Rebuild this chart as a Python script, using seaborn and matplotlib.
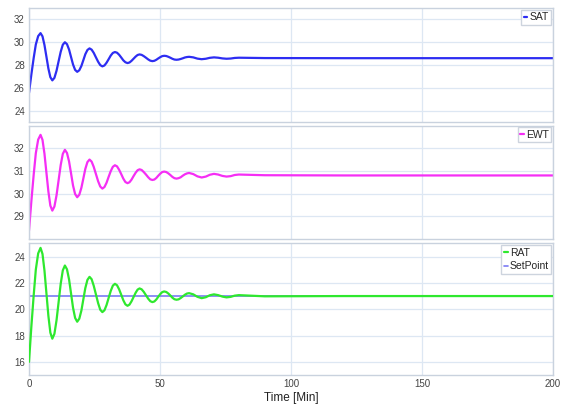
import numpy as np
import pandas as pd
import matplotlib
matplotlib.use('Agg')
import matplotlib.pyplot as plt
import seaborn as sns

# Values (time in minutes)
time_min = [0, 0.9, 1.8, 2.6, 3.5, 4.4,
            5.15, 5.9, 6.65, 7.4, 8.15, 8.9,
            9.7, 10.5, 11.3, 12.1, 12.9, 13.7,
            14.5, 15.3, 16.05, 16.8, 17.6, 18.4,
            19.2, 20.0, 20.75, 21.5, 22.3, 23.1,
            23.9, 24.7, 25.55, 26.4, 27.2, 28.0,
            28.8, 29.6, 30.4, 31.2, 32.0, 32.8,
            33.6, 34.4, 35.2, 36.0, 36.8, 37.6,
            38.35, 39.1, 39.9, 40.7, 41.45, 42.2,
            43.0, 43.8, 44.65, 45.5, 46.3, 47.1,
            47.85, 48.6, 49.35, 50.1, 50.85, 51.6,
            52.4, 53.2, 53.95, 54.7, 55.5, 56.3,
            57.1, 57.9, 58.7, 59.5, 60.3, 61.1,
            62.7, 64.3, 65.9, 67.5, 69.0, 70.6,
            72.2, 73.8, 75.4, 77.0, 78.5, 80.1,
            90, 120, 160, 200]

sat = [25.55, 27.17, 28.64, 29.80, 30.54, 30.8,
       30.52, 29.76, 28.73, 27.69, 26.93, 26.65,
       26.87, 27.49, 28.33, 29.16, 29.78, 30.0,
       29.83, 29.35, 28.70, 28.05, 27.57, 27.4,
       27.54, 27.92, 28.43, 28.95, 29.32, 29.46,
       29.35, 29.07, 28.67, 28.28, 27.99, 27.88,
       27.96, 28.20, 28.51, 28.83, 29.06, 29.14,
       29.08, 28.90, 28.66, 28.41, 28.24, 28.17,
       28.22, 28.36, 28.55, 28.74, 28.88, 28.93,
       28.89, 28.78, 28.64, 28.49, 28.38, 28.34,
       28.37, 28.46, 28.58, 28.69, 28.78, 28.81,
       28.79, 28.72, 28.64, 28.55, 28.48, 28.46,
       28.48, 28.53, 28.59, 28.66, 28.70, 28.72,
       28.67, 28.56, 28.51, 28.55, 28.63, 28.67,
       28.64, 28.58, 28.55, 28.57, 28.62, 28.64,
       28.61, 28.6, 28.6, 28.6]

ewt = [28.37, 29.67, 30.85, 31.78, 32.38, 32.59,
       32.37, 31.76, 30.92, 30.09, 29.47, 29.25,
       29.43, 29.92, 30.59, 31.26, 31.75, 31.93,
       31.79, 31.41, 30.89, 30.36, 29.98, 29.84,
       29.95, 30.26, 30.67, 31.09, 31.39, 31.5,
       31.41, 31.18, 30.86, 30.54, 30.31, 30.22,
       30.29, 30.48, 30.74, 30.99, 31.18, 31.25,
       31.20, 31.05, 30.86, 30.66, 30.51, 30.46,
       30.50, 30.61, 30.77, 30.92, 31.03, 31.07,
       31.04, 30.95, 30.84, 30.72, 30.63, 30.6,
       30.62, 30.69, 30.79, 30.88, 30.95, 30.97,
       30.95, 30.89, 30.82, 30.74, 30.68, 30.66,
       30.68, 30.72, 30.79, 30.85, 30.89, 30.91,
       30.86, 30.76, 30.71, 30.75, 30.83, 30.87,
       30.84, 30.78, 30.75, 30.77, 30.82, 30.84,
       30.81, 30.8, 30.8, 30.8]

rat = [16.0, 18.68, 21.09, 23.01, 24.24, 24.66,
       24.20, 22.94, 21.21, 19.49, 18.22, 17.76,
       18.13, 19.15, 20.54, 21.93, 22.95, 23.32,
       23.03, 22.25, 21.19, 20.12, 19.34, 19.05,
       19.28, 19.90, 20.76, 21.61, 22.23, 22.46,
       22.28, 21.79, 21.12, 20.45, 19.96, 19.78,
       19.92, 20.32, 20.86, 21.39, 21.79, 21.93,
       21.82, 21.51, 21.10, 20.68, 20.37, 20.26,
       20.35, 20.59, 20.92, 21.25, 21.49, 21.58,
       21.51, 21.32, 21.06, 20.80, 20.61, 20.54,
       20.59, 20.74, 20.95, 21.15, 21.30, 21.35,
       21.31, 21.19, 21.04, 20.88, 20.76, 20.72,
       20.75, 20.85, 20.97, 21.10, 21.19, 21.22,
       21.13, 20.94, 20.84, 20.91, 21.06, 21.13,
       21.07, 20.96, 20.9, 20.94, 21.03, 21.07,
       20.98, 21.0, 21.0, 21.0]

setpoint_time = [0, 200]
setpoint = [21.0, 21.0]

df = pd.DataFrame({'t': time_min, 'SAT': sat, 'EWT': ewt, 'RAT': rat})
sp = pd.DataFrame({'t': setpoint_time, 'SetPoint': setpoint})

sns.set_style('white')
plt.rcParams['font.family'] = ['Liberation Sans Narrow', 'Liberation Sans', 'DejaVu Sans']

grid_c = '#dde7f3'
spine_c = '#c9d2de'

fig = plt.figure(figsize=(5.61, 4.05), dpi=100)
ax1 = fig.add_axes([0.0517, 0.699, 0.934, 0.281])
ax2 = fig.add_axes([0.0517, 0.410, 0.934, 0.280])
ax3 = fig.add_axes([0.0517, 0.074, 0.934, 0.325])

sns.lineplot(data=df, x='t', y='SAT', ax=ax1, color='#2d2df2', lw=1.6, label='SAT', estimator=None)
sns.lineplot(data=df, x='t', y='EWT', ax=ax2, color='#f52ef5', lw=1.6, label='EWT', estimator=None)
sns.lineplot(data=sp, x='t', y='SetPoint', ax=ax3, color='#7a7af5', lw=1.2, label='SetPoint',
             estimator=None, zorder=2)
sns.lineplot(data=df, x='t', y='RAT', ax=ax3, color='#2ee82e', lw=1.6, label='RAT', estimator=None, zorder=3)

limits = [(23, 33), (28, 33), (15, 25)]
yticks = [[24, 26, 28, 30, 32], [29, 30, 31, 32], [16, 18, 20, 22, 24]]

for ax, lim, yt in zip([ax1, ax2, ax3], limits, yticks):
    ax.set_xlim(0, 200)
    ax.set_ylim(*lim)
    ax.set_xticks([0, 50, 100, 150, 200])
    ax.set_yticks(yt)
    ax.grid(True, color=grid_c, lw=0.9)
    ax.set_axisbelow(True)
    for s in ax.spines.values():
        s.set_color(spine_c)
        s.set_linewidth(1.0)
    ax.tick_params(length=0, labelsize=7, colors='#444444', pad=3)
    ax.set_ylabel('')
    ax.set_xlabel('')

ax1.tick_params(labelbottom=False)
ax2.tick_params(labelbottom=False)
ax3.set_xlabel('Time [Min]', fontsize=8.5, color='#222222', labelpad=2)

leg_kw = dict(loc='upper right', fontsize=7.5, handlelength=0.35, handletextpad=0.2,
              borderpad=0.25, borderaxespad=0.15, frameon=True, fancybox=False,
              edgecolor='#cdd4de', framealpha=1, labelspacing=0.35)
ax1.legend(**leg_kw)
ax2.legend(**leg_kw)
h, l = ax3.get_legend_handles_labels()
ax3.legend([h[1], h[0]], [l[1], l[0]], **leg_kw)

fig.savefig('out.png', dpi=100)
